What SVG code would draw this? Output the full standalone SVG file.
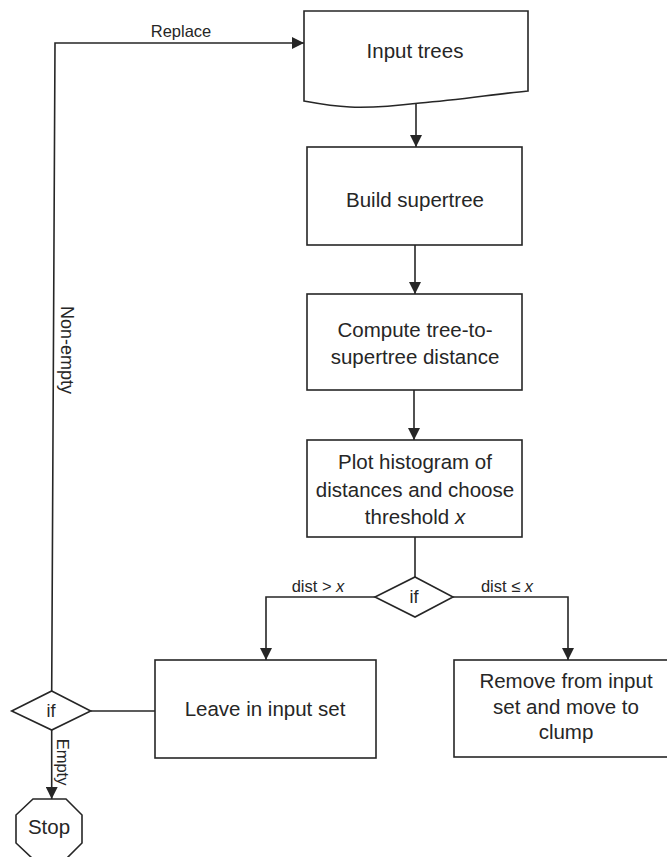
<svg xmlns="http://www.w3.org/2000/svg" width="667" height="857" viewBox="0 0 667 857">
  <style>
    .shape { fill: #ffffff; stroke: #262626; stroke-width: 1.6; }
    .line { fill: none; stroke: #262626; stroke-width: 1.6; }
    .txt { font-family: "Liberation Sans", Arial, sans-serif; font-size: 20.5px; fill: #262626; text-anchor: middle; }
    .lbl { font-family: "Liberation Sans", Arial, sans-serif; font-size: 16.5px; fill: #262626; text-anchor: middle; }
    .lbl2 { font-family: "Liberation Sans", Arial, sans-serif; font-size: 18px; fill: #262626; text-anchor: middle; }
  </style>
  <defs>
    <marker id="arrow" viewBox="0 0 12 12" refX="12" refY="6" markerWidth="12" markerHeight="12" markerUnits="userSpaceOnUse" orient="auto">
      <path d="M0,0 L12,6 L0,12 Z" fill="#262626"/>
    </marker>
  </defs>

  <rect width="667" height="857" fill="#ffffff"/>

  <!-- connectors -->
  <g id="connectors">
    <path class="line" d="M90.7,711 L155,711"/>
    <path class="line" d="M51.7,691 L55,43 L304,43" marker-end="url(#arrow)"/>
    <path class="line" d="M416,104 L416,147" marker-end="url(#arrow)"/>
    <path class="line" d="M415,245 L415,294" marker-end="url(#arrow)"/>
    <path class="line" d="M414,390 L414,440" marker-end="url(#arrow)"/>
    <path class="line" d="M415,537 L415,577"/>
    <path class="line" d="M375,597 L266,597 L266,660" marker-end="url(#arrow)"/>
    <path class="line" d="M453,597 L568,597 L568,660" marker-end="url(#arrow)"/>
    <path class="line" d="M51.7,730 L51.7,799" marker-end="url(#arrow)"/>
    <text class="lbl" x="181" y="37">Replace</text>
    <text class="lbl" x="318" y="592">dist &gt; <tspan font-style="italic">x</tspan></text>
    <text class="lbl" x="507" y="592">dist ≤ <tspan font-style="italic">x</tspan></text>
    <text class="lbl" transform="translate(57,762) rotate(90)" x="0" y="0">Empty</text>
    <text class="lbl2" transform="translate(61,350) rotate(90)" x="0" y="0">Non-empty</text>
  </g>

  <!-- document shape -->
  <g id="input-trees">
    <path class="shape" d="M304,11 L528,11 L528,91 C495,94 460,100 420,103 C395,106 375,108 350,107 C330,106 315,103 304,101 Z"/>
    <text class="txt" x="415" y="58">Input trees</text>
  </g>

  <g id="build-supertree">
    <rect class="shape" x="307" y="147" width="215" height="98"/>
    <text class="txt" x="415" y="207">Build supertree</text>
  </g>

  <g id="compute-distance">
    <rect class="shape" x="307" y="294" width="215" height="96"/>
    <text class="txt" x="415" y="337">Compute tree-to-</text>
    <text class="txt" x="415" y="364">supertree distance</text>
  </g>

  <g id="plot-histogram">
    <rect class="shape" x="307" y="440" width="215" height="97"/>
    <text class="txt" x="415" y="469">Plot histogram of</text>
    <text class="txt" x="415" y="497">distances and choose</text>
    <text class="txt" x="415" y="524">threshold <tspan font-style="italic">x</tspan></text>
  </g>

  <g id="threshold-decision">
    <path class="shape" d="M415,577 L453,597 L415,617 L375,597 Z"/>
    <text class="lbl2" x="414" y="603">if</text>
  </g>

  <g id="leave-in-set">
    <rect class="shape" x="155" y="660" width="221" height="98"/>
    <text class="txt" x="265" y="716">Leave in input set</text>
  </g>

  <g id="move-to-clump">
    <rect class="shape" x="454" y="660" width="228" height="97"/>
    <text class="txt" x="566" y="688">Remove from input</text>
    <text class="txt" x="566" y="714">set and move to</text>
    <text class="txt" x="566" y="739">clump</text>
  </g>

  <g id="empty-decision">
    <path class="shape" d="M51.7,691 L90.7,711 L51.7,730 L11.7,711 Z"/>
    <text class="lbl2" x="51" y="717">if</text>
  </g>

  <g id="stop">
    <path class="shape" d="M33,799 L66,799 L82,815 L82,843 L66,859 L33,859 L16,843 L16,815 Z"/>
    <text class="txt" x="49" y="834">Stop</text>
  </g>
</svg>
